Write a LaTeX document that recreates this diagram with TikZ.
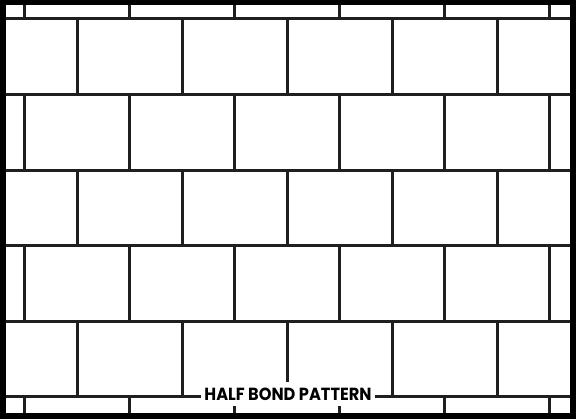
\documentclass[tikz,border=0pt]{standalone}
\usepackage{fontspec}
\usepackage{graphicx}
\newfontfamily\labfont{Poppins}
\begin{document}
\begin{tikzpicture}[x=1pt,y=-1pt,
  mortar/.style={line width=3pt, draw=black!88},
  caption/.style={fill=white, inner sep=0pt, minimum width=174pt, minimum height=24pt}]
\useasboundingbox (0,0) rectangle (576,419);
\fill[black] (0,0) rectangle (576,419);
\fill[white] (5.5,5.5) rectangle (570,413);
\begin{scope}
  \clip (5.5,5.5) rectangle (570,413);
  \foreach \y in {18.5,95,170.5,246,321.5,397}
    \draw[mortar] (0,\y) -- (576,\y);
  \foreach \top/\bot/\off in {0/18.5/24, 18.5/95/77, 95/170.5/24, 170.5/246/77, 246/321.5/24, 321.5/397/77, 397/419/24}
    \foreach \k in {-1,...,5}
      \draw[mortar] ({\off+105*\k},\top) -- ({\off+105*\k},\bot);
\end{scope}
\node[caption] (label) at (288,394.4) {\resizebox{167pt}{12.5pt}{\labfont\bfseries HALF BOND PATTERN}};
\end{tikzpicture}
\end{document}
